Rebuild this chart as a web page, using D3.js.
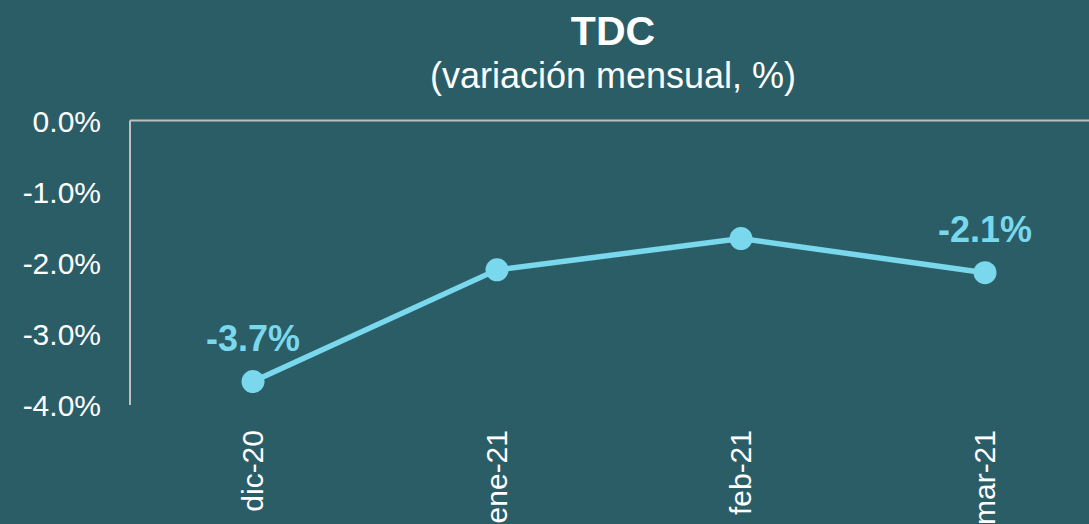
<!DOCTYPE html>
<html><head><meta charset="utf-8">
<script src="https://cdn.jsdelivr.net/npm/d3@7"></script>
<style>html,body{margin:0;padding:0;background:#2b5d67;}svg{display:block;}</style>
</head><body><svg id="c" width="1089" height="524"></svg>
<script>
const categories = ["dic-20","ene-21","feb-21","mar-21"];
const values = [-3.67,-2.10,-1.66,-2.14];
const labeledIdx = [0,3];
const yTicks = [0,-1,-2,-3,-4];
const title = "TDC";
const subtitle = "(variación mensual, %)";

const W=1089,H=524;
const svg=d3.select("#c");
svg.append("rect").attr("width",W).attr("height",H).attr("fill","#2b5d67");
const font="Liberation Sans, Arial, sans-serif";
const x=d3.scalePoint().domain(categories).range([253,985]);
const y=d3.scaleLinear().domain([0,-4]).range([120.5,405]);
const lineCol="#79d8ec";
const fmt=v=>d3.format(".1f")(v).replace("\u2212","-")+"%";

// axes
svg.append("line").attr("x1",130).attr("x2",W).attr("y1",y(0)).attr("y2",y(0)).attr("stroke","#bfbfbf").attr("stroke-width",2);
svg.append("line").attr("x1",130).attr("x2",130).attr("y1",y(0)).attr("y2",y(-4)).attr("stroke","#bfbfbf").attr("stroke-width",2);
const yAxis=d3.axisLeft(y).tickValues(yTicks).tickSize(0).tickPadding(29).tickFormat(fmt);
const ga=svg.append("g").attr("transform","translate(130,0)").call(yAxis);
ga.select(".domain").remove();
ga.selectAll("text").attr("fill","#ffffff").style("font-family",font).style("font-size","30px").attr("dy","0.35em");

// category labels
svg.selectAll("text.cat").data(categories).enter().append("text").attr("class","cat")
 .attr("transform",d=>`translate(${x(d)+10},430) rotate(-90)`)
 .attr("text-anchor","end").attr("fill","#fff").style("font-family",font).style("font-size","30px").text(d=>d);

// line
const pts=categories.map((c,i)=>[x(c),y(values[i])]);
svg.append("path").attr("d",d3.line()(pts)).attr("fill","none").attr("stroke",lineCol).attr("stroke-width",5.5);
svg.selectAll("circle").data(pts).enter().append("circle").attr("cx",d=>d[0]).attr("cy",d=>d[1]).attr("r",11.5).attr("fill",lineCol);

// data labels
svg.selectAll("text.lab").data(labeledIdx).enter().append("text").attr("class","lab")
 .attr("x",i=>x(categories[i])).attr("y",i=>y(values[i])-31).attr("text-anchor","middle")
 .attr("fill",lineCol).style("font-family",font).style("font-size","36px").style("font-weight","bold")
 .text(i=>fmt(values[i]));

// titles
svg.append("text").attr("x",613).attr("y",45).attr("text-anchor","middle").attr("fill","#fff").style("font-family",font).style("font-size","41px").style("font-weight","bold").text(title);
svg.append("text").attr("x",613).attr("y",88).attr("text-anchor","middle").attr("fill","#fff").style("font-family",font).style("font-size","36px").text(subtitle);
</script></body></html>
